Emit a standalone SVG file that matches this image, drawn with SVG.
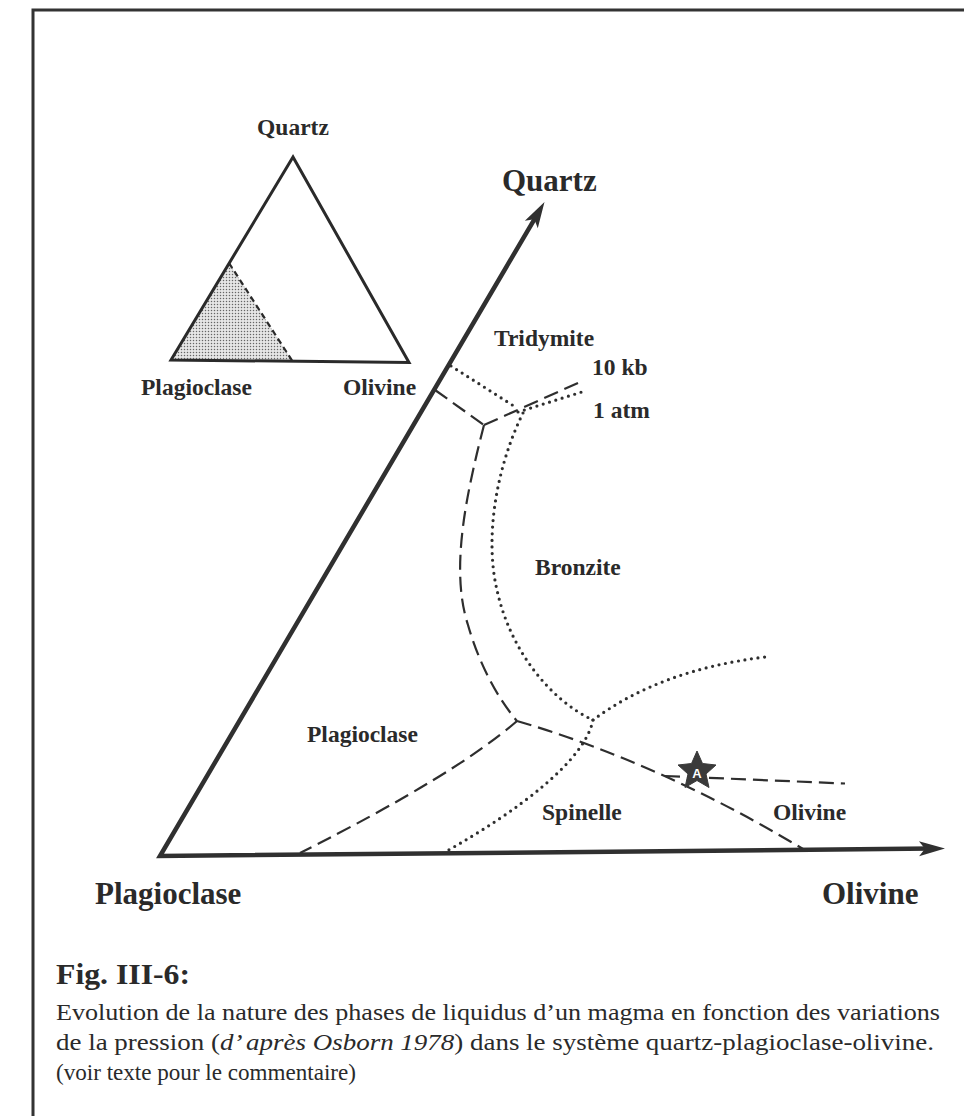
<svg xmlns="http://www.w3.org/2000/svg" width="964" height="1116" viewBox="0 0 964 1116">
<style>
.lbl{font-family:"Liberation Serif","Times New Roman",serif;font-weight:bold;fill:#2a2a2a}
.sm{font-size:23.5px}
.big{font-size:31px}
.cap{font-family:"Liberation Serif","Times New Roman",serif;font-size:24px;fill:#2a2a2a}
.axis{fill:none;stroke:#303030;stroke-width:4.5;stroke-linejoin:miter}
.dash{fill:none;stroke:#2e2e2e;stroke-width:2.2;stroke-dasharray:15 7}
.dot{fill:none;stroke:#2e2e2e;stroke-width:3.2;stroke-dasharray:0 6.6;stroke-linecap:round}
.frame{fill:none;stroke:#333;stroke-width:3}
</style>
<defs>
<marker id="arr" markerUnits="userSpaceOnUse" orient="auto-start-reverse" refX="0" refY="0" markerWidth="10" markerHeight="10" overflow="visible">
<path d="M13,0 L-13,-7.5 L-7,0 L-13,7.5 Z" fill="#303030"/>
</marker>
<pattern id="stip" width="3" height="3" patternUnits="userSpaceOnUse">
<rect width="3" height="3" fill="#e6e6e6"/>
<circle cx="1.5" cy="1.5" r="0.75" fill="#666"/>
</pattern>
</defs>
<rect width="964" height="1116" fill="#fff"/>
<path class="frame" d="M964,10 L33,10 L33,1116"/>

<g id="inset">
<polygon points="171,360 229,263 293,362" fill="url(#stip)"/>
<polygon points="293,157 171,360 409,362.5" fill="none" stroke="#2a2a2a" stroke-width="3" stroke-linejoin="miter"/>
<line x1="229" y1="263" x2="293" y2="362" stroke="#2a2a2a" stroke-width="2.2" stroke-dasharray="6 4"/>
<text class="lbl sm" x="293" y="135" text-anchor="middle">Quartz</text>
<text class="lbl sm" x="141" y="395">Plagioclase</text>
<text class="lbl sm" x="343" y="395">Olivine</text>
</g>

<g id="axes">
<path class="axis" d="M537.9,213.3 L160,856 L932,848.6" marker-start="url(#arr)" marker-end="url(#arr)"/>
<text class="lbl big" x="502" y="191">Quartz</text>
<text class="lbl big" x="95" y="904">Plagioclase</text>
<text class="lbl big" x="822" y="904">Olivine</text>
</g>

<g id="connectors">
<path class="dash" d="M435,390 L484,425"/>
<path class="dash" d="M484,425 L578,383"/>
<path class="dash" d="M484,425 C466,495 450,570 468,625 C478,660 495,695 517,721"/>
<path class="dash" d="M517,721 Q455,775 300,853"/>
<path class="dash" d="M517,721 Q660,763 803,849"/>
<path class="dash" d="M665,776 L845,783.5"/>
<path class="dot" d="M451,366 L517,408"/>
<path class="dot" d="M518,412 L585,391"/>
<path class="dot" d="M523,413 C495,470 485,540 497,590 C510,650 550,700 593,720"/>
<path class="dot" d="M593,720 Q660,670 765,657"/>
<path class="dot" d="M593,720 C585,760 520,810 445,852"/>
</g>

<g id="star-A">
<polygon points="697,751 702.5,763.5 716,765 706,774 709,787.5 697,780.5 685,787.5 688,774 678,765 691.5,763.5" fill="#3a3a3a" stroke="#3a3a3a" stroke-width="1" stroke-linejoin="round"/>
<text x="697" y="777.5" text-anchor="middle" font-family="Liberation Sans, Arial, sans-serif" font-weight="bold" font-size="13" fill="#fff">A</text>
</g>

<g id="region-labels">
<text class="lbl sm" x="494" y="346">Tridymite</text>
<text class="lbl sm" x="592" y="375">10 kb</text>
<text class="lbl sm" x="593" y="418">1 atm</text>
<text class="lbl sm" x="535" y="575">Bronzite</text>
<text class="lbl sm" x="307" y="742">Plagioclase</text>
<text class="lbl sm" x="542" y="820">Spinelle</text>
<text class="lbl sm" x="773" y="820">Olivine</text>
</g>

<g id="caption">
<text class="lbl" x="56" y="984" font-size="30" textLength="134" lengthAdjust="spacingAndGlyphs">Fig. III-6:</text>
<text class="cap" x="56" y="1020" textLength="884" lengthAdjust="spacingAndGlyphs">Evolution de la nature des phases de liquidus d’un magma en fonction des variations</text>
<text class="cap" x="56" y="1050" textLength="878" lengthAdjust="spacingAndGlyphs">de la pression (<tspan font-style="italic">d’ après Osborn 1978</tspan>) dans le système quartz-plagioclase-olivine.</text>
<text class="cap" x="56" y="1080" textLength="300" lengthAdjust="spacingAndGlyphs">(voir texte pour le commentaire)</text>
</g>
</svg>
